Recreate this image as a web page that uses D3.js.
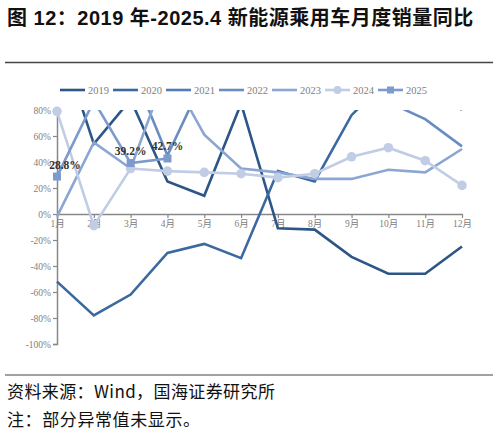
<!DOCTYPE html>
<html>
<head>
<meta charset="utf-8">
<script src="https://cdn.jsdelivr.net/npm/d3@7"></script>
<style>
  body { margin: 0; background: #fff; }
</style>
</head>
<body>
<svg id="chart" width="498" height="437"></svg>
<script>
// data (% yoy), values above 80% are off-chart in the original
const months = ["1月","2月","3月","4月","5月","6月","7月","8月","9月","10月","11月","12月"];
const years = ["2019","2020","2021","2022","2023","2024","2025"];
const y2019 = [140, 54, 88, 25, 14, 85, -11, -12, -33, -46, -46, -25];
const y2020 = [-52, -78, -62, -30, -23, -34, 33, 25, 76, 104, 104, 80];
const y2021 = [285, 585, 239, 180, 160, 140, 165, 180, 150, 135, 120, 115];
const y2022 = [135, 184, 114, 45, 105, 130, 117, 100, 98, 86, 73, 52];
const y2023 = [-2, 55, 35, 112, 61, 35, 32, 27, 27, 34, 32, 50];
const y2024 = [79, -9, 35, 33, 32, 31, 28, 31, 44, 51, 41, 22];
const y2025 = [28.8, 87, 39.2, 42.7];
const yTicks = [80, 60, 40, 20, 0, -20, -40, -60, -80, -100];
const labelled = [0, 2, 3]; // months of 2025 with a value label

const colors = ["#2c5688", "#3a689f", "#4f7db8", "#6a8cc4", "#8ba6d3", "#c0cde5", "#7c9acb"];
const seriesData = [y2019, y2020, y2021, y2022, y2023, y2024, y2025];

const serif = "'Liberation Serif', 'Times New Roman', 'Noto Sans CJK SC', serif";
const svg = d3.select("#chart");

// title and frame lines
svg.append("text")
  .attr("x", 7).attr("y", 25)
  .style("font-family", "'Liberation Sans', 'Noto Sans CJK SC', sans-serif")
  .style("font-weight", "bold")
  .style("font-size", "20px")
  .style("letter-spacing", "0.5px")
  .attr("fill", "#111")
  .text("图 12：2019 年-2025.4 新能源乘用车月度销量同比");

svg.append("line").attr("x1", 5).attr("x2", 493).attr("y1", 62.5).attr("y2", 62.5)
  .attr("stroke", "#444").attr("stroke-width", 1.6);
svg.append("line").attr("x1", 5).attr("x2", 493).attr("y1", 375).attr("y2", 375)
  .attr("stroke", "#444").attr("stroke-width", 1.2);

const footStyle = "'Noto Sans CJK SC', 'Liberation Sans', sans-serif";
svg.append("text").attr("x", 7).attr("y", 398)
  .style("font-family", footStyle).style("font-size", "17px").style("letter-spacing", "0.4px")
  .attr("fill", "#111")
  .text("资料来源：Wind，国海证券研究所");
svg.append("text").attr("x", 7).attr("y", 426)
  .style("font-family", footStyle).style("font-size", "17px").style("letter-spacing", "0.6px")
  .attr("fill", "#111")
  .text("注：部分异常值未显示。");

// scales
const x = d3.scalePoint().domain(months).range([57, 462]);
const y = d3.scaleLinear().domain([-100, 80]).range([344, 110]);

svg.append("defs").append("clipPath").attr("id", "plot")
  .append("rect").attr("x", 40).attr("y", y(80)).attr("width", 440).attr("height", y(-100) - y(80));

// y axis
const yAxis = svg.append("g")
  .attr("transform", `translate(${x(months[0])},0)`)
  .call(d3.axisLeft(y).tickValues(yTicks).tickSize(4).tickFormat(d => d + "%"));
yAxis.select(".domain").attr("stroke", "#888").attr("stroke-width", 1.5);
yAxis.selectAll(".tick line").attr("stroke", "#888").attr("stroke-width", 1.2);
yAxis.selectAll(".tick text").attr("fill", "#808080")
  .style("font-size", "9.5px").style("font-family", serif).attr("x", -6);

// x axis on the 0% line
const xAxis = svg.append("g")
  .attr("transform", `translate(0,${y(0)})`)
  .call(d3.axisBottom(x).tickSize(4).tickSizeOuter(0));
xAxis.select(".domain").attr("stroke", "#888").attr("stroke-width", 1.5);
xAxis.selectAll(".tick line").attr("stroke", "#888").attr("stroke-width", 1.2);
xAxis.selectAll(".tick text").attr("fill", "#808080")
  .style("font-size", "9.5px").style("font-family", serif).attr("y", 6);

// lines
const line = d3.line()
  .x((d, i) => x(months[i]))
  .y(d => y(d));

const plot = svg.append("g").attr("clip-path", "url(#plot)");
seriesData.forEach(function(vals, k) {
  plot.append("path")
    .datum(vals)
    .attr("d", line)
    .attr("fill", "none")
    .attr("stroke", colors[k])
    .attr("stroke-width", 2.6)
    .attr("stroke-linejoin", "miter");
});

// markers: circles for 2024, squares for 2025 (only those inside the plot)
svg.append("g").selectAll("circle")
  .data(y2024.map((v, i) => ({v, i})).filter(d => d.v <= 80 && d.v >= -100))
  .enter().append("circle")
    .attr("cx", d => x(months[d.i]))
    .attr("cy", d => y(d.v))
    .attr("r", 4.8)
    .attr("fill", colors[5]);

svg.append("g").selectAll("rect")
  .data(y2025.map((v, i) => ({v, i})).filter(d => d.v <= 80 && d.v >= -100))
  .enter().append("rect")
    .attr("x", d => x(months[d.i]) - 4)
    .attr("y", d => y(d.v) - 4)
    .attr("width", 8).attr("height", 8)
    .attr("fill", colors[6]);

// value labels for 2025
svg.append("g").selectAll("text")
  .data(labelled)
  .enter().append("text")
    .attr("x", i => x(months[i]) + (i === 0 ? 8 : 0))
    .attr("y", i => y(y2025[i]) - 8)
    .attr("text-anchor", "middle")
    .style("font-family", serif)
    .style("font-size", "11.5px")
    .style("font-weight", "bold")
    .attr("fill", "#333")
    .text(i => y2025[i].toFixed(1) + "%");

// legend
const legend = svg.append("g").attr("transform", "translate(60,90)");
years.forEach(function(yr, k) {
  const g = legend.append("g").attr("transform", `translate(${k * 53},0)`);
  g.append("line").attr("x1", 0).attr("x2", 25).attr("y1", 0).attr("y2", 0)
    .attr("stroke", colors[k]).attr("stroke-width", 2.6);
  if (k === 5) g.append("circle").attr("cx", 12.5).attr("cy", 0).attr("r", 4).attr("fill", colors[k]);
  if (k === 6) g.append("rect").attr("x", 9).attr("y", -3.5).attr("width", 7).attr("height", 7).attr("fill", colors[k]);
  g.append("text").attr("x", 28).attr("y", 3.5)
    .style("font-family", serif)
    .style("font-size", "10.5px").attr("fill", "#808080")
    .text(yr);
});
</script>
</body>
</html>
